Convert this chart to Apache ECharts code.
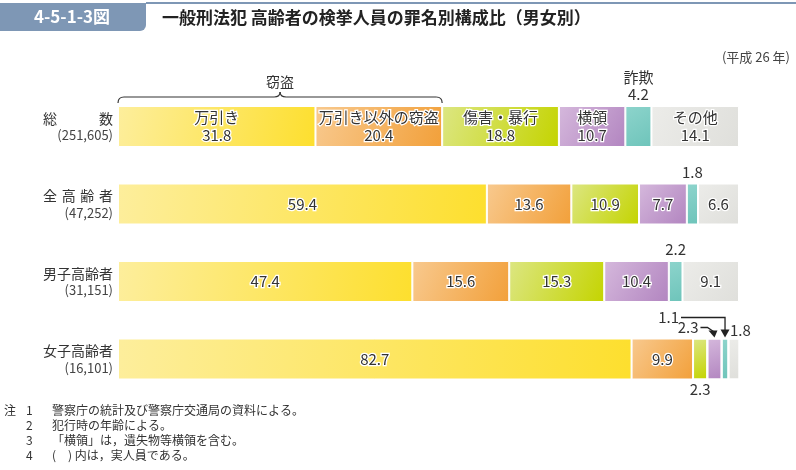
<!DOCTYPE html>
<html><head><meta charset="utf-8">
<script src="https://cdn.jsdelivr.net/npm/echarts@6/dist/echarts.min.js"></script>
<style>html,body{margin:0;padding:0;background:#fff}#c{width:796px;height:470px}</style>
</head><body><div id="c"></div>
<script>
// ---- data ----
const categories = ['総数', '全高齢者', '男子高齢者', '女子高齢者'];
const rowLabels = ['総　　　数', '全\u2004高\u2004齢\u2004者', '男子高齢者', '女子高齢者'];
const counts = ['(251,605)', '(47,252)', '(31,151)', '(16,101)'];
const crimeNames = ['万引き', '万引き以外の窃盗', '傷害・暴行', '横領', '詐欺', 'その他'];
const shoplifting = [31.8, 59.4, 47.4, 82.7];
const otherTheft = [20.4, 13.6, 15.6, 9.9];
const assault = [18.8, 10.9, 15.3, 2.3];
const embezzlement = [10.7, 7.7, 10.4, 2.3];
const fraud = [4.2, 1.8, 2.2, 1.1];
const others = [14.1, 6.6, 9.1, 1.8];
const groupLabel = '窃盗';
const titleNo = '4-5-1-3図';
const titleText = '一般刑法犯 高齢者の検挙人員の罪名別構成比（男女別）';
const yearText = '(平成 26 年)';
const noteNums = ['1', '2', '3', '4'];
const notes = ['警察庁の統計及び警察庁交通局の資料による。', '犯行時の年齢による。', '「横領」は，遺失物等横領を含む。', '(　) 内は，実人員である。'];

const FONT = '"Noto Sans CJK JP", "Noto Sans", sans-serif';
const seriesValues = [shoplifting, otherTheft, assault, embezzlement, fraud, others];
const gradients = [
  ['#FDEE9C', '#FDDF2E'],
  ['#F8C98E', '#F2A03A'],
  ['#DCE682', '#C4D400'],
  ['#D5B8DC', '#B285C0'],
  ['#8DD4CC', '#6EC4BA'],
  ['#ECECE9', '#DFDFDB']
];
const insideRows = [[0,1,2,3],[0,1,2,3],[0,1,2],[0,1,2],[],[0,1,2]];
const topRows = [[],[],[],[],[0,1,2],[]];

const BAR_W = 41;
const valueLabel = {
  fontFamily: FONT, fontSize: 15, color: '#333', textBorderColor: '#fff', textBorderWidth: 2.5, lineHeight: 18
};

const series = seriesValues.map((vals, si) => ({
  name: crimeNames[si],
  type: 'bar',
  stack: 'total',
  barWidth: BAR_W,
  itemStyle: {
    borderColor: '#fff', borderWidth: 1,
    color: { type: 'linear', x: 0, y: 0, x2: 1, y2: 1, colorStops: [{offset: 0, color: gradients[si][0]}, {offset: 1, color: gradients[si][1]}] }
  },
  data: vals.map((v, ri) => {
    const inside = insideRows[si].includes(ri);
    const top = topRows[si].includes(ri);
    let label = { show: false };
    if (inside) {
      label = Object.assign({ show: true, position: 'inside',
        formatter: ri === 0 ? crimeNames[si] + '\n' + v.toFixed(1) : v.toFixed(1) }, valueLabel);
    } else if (top) {
      label = { show: true, position: 'top', distance: 3, fontFamily: FONT, fontSize: 15, color: '#333', lineHeight: 17,
        formatter: ri === 0 ? crimeNames[si] + '\n' + v.toFixed(1) : v.toFixed(1) };
    }
    return { value: v, label };
  })
}));

const chart = echarts.init(document.getElementById('c'), null, { renderer: 'canvas' });
chart.setOption({
  animation: false,
  backgroundColor: '#fff',
  grid: { left: 118, right: 57, top: 87.75, bottom: 72.25, containLabel: false },
  xAxis: { type: 'value', min: 0, max: 100, show: false },
  yAxis: {
    type: 'category', data: categories, inverse: true,
    axisLine: { show: false }, axisTick: { show: false }, splitLine: { show: false },
    axisLabel: {
      margin: 5, align: 'right',
      formatter: (val, idx) => '{a|' + rowLabels[idx] + '}\n{b|' + counts[idx] + '}',
      rich: {
        a: { fontFamily: FONT, fontSize: 14, color: '#333', lineHeight: 18, align: 'right' },
        b: { fontFamily: FONT, fontSize: 13, color: '#444', lineHeight: 16, align: 'right' }
      }
    }
  },
  series
});

function px(x, row) { return chart.convertToPixel({ gridIndex: 0 }, [x, row]); }
function cum(row, si) { let s = 0; for (let k = 0; k < si; k++) s += seriesValues[k][row]; return s; }
function segCenter(row, si) { return px(cum(row, si) + seriesValues[si][row] / 2, row); }

const g = [];
const T = (t, x, y, o) => ({ type: 'text', x, y, style: Object.assign({ text: t, fontFamily: FONT, fontSize: 15, fill: '#333', align: 'center', verticalAlign: 'middle' }, o || {}) });
// title bar
g.push({ type: 'rect', shape: { x: 0, y: 3, width: 146, height: 28, r: [0, 0, 6, 0] }, style: { fill: '#7E97B5' } });
g.push({ type: 'rect', shape: { x: 146, y: 2, width: 650, height: 2 }, style: { fill: '#7E97B5' } });
g.push(T(titleNo, 72, 17, { fontSize: 17, fontWeight: 'bold', fill: '#fff' }));
g.push(T(titleText, 162, 18, { fontSize: 17, fontWeight: 'bold', fill: '#222', align: 'left' }));
g.push(T(yearText, 790, 57, { fontSize: 13, fill: '#444', align: 'right' }));

// brace over theft group
const b0 = px(0, 0), b1 = px(shoplifting[0] + otherTheft[0], 0);
const topY = b0[1] - BAR_W / 2;
const x0 = b0[0], x1 = b1[0], xm = (x0 + x1) / 2;
const yb = topY - 3, yl = topY - 9, yp = topY - 14;
const braceStyle = { stroke: '#333', lineWidth: 1.2, fill: null };
const bz = (a, c, b) => ({ type: 'bezierCurve', shape: { x1: a[0], y1: a[1], cpx1: c[0], cpy1: c[1], x2: b[0], y2: b[1] }, style: braceStyle });
const ln = (a, b) => ({ type: 'line', shape: { x1: a[0], y1: a[1], x2: b[0], y2: b[1] }, style: braceStyle });
g.push(bz([x0, yb], [x0, yl], [x0 + 6, yl]));
g.push(ln([x0 + 6, yl], [xm - 6, yl]));
g.push(bz([xm - 6, yl], [xm, yl], [xm, yp]));
g.push(bz([xm, yp], [xm, yl], [xm + 6, yl]));
g.push(ln([xm + 6, yl], [x1 - 6, yl]));
g.push(bz([x1 - 6, yl], [x1, yl], [x1, yb]));
g.push(T(groupLabel, xm, yp - 10, { fontSize: 14 }));

// row 4 (女子高齢者) small-segment annotations
const r = 3;
const rowTop = px(0, r)[1] - BAR_W / 2, rowBot = px(0, r)[1] + BAR_W / 2;
const tealC = segCenter(r, 4), purC = segCenter(r, 3), grnC = segCenter(r, 2);
const grayEnd = px(100, r);
const arrowStyle = { stroke: '#222', lineWidth: 1.3, fill: null };
// 1.1 -> teal
const yA = rowTop - 21;
g.push(T(fraud[r].toFixed(1), tealC[0] - 46, yA, { align: 'right' }));
g.push({ type: 'polyline', shape: { points: [[tealC[0] - 44, yA], [tealC[0], yA], [tealC[0], rowTop - 8]] }, style: arrowStyle });
g.push({ type: 'polygon', shape: { points: [[tealC[0] - 4.5, rowTop - 9], [tealC[0] + 4.5, rowTop - 9], [tealC[0], rowTop - 1]] }, style: { fill: '#222' } });
// 2.3 -> purple
const yB = rowTop - 11;
g.push(T(embezzlement[r].toFixed(1), purC[0] - 16, yB, { align: 'right' }));
g.push({ type: 'polyline', shape: { points: [[purC[0] - 14, yB], [purC[0] - 7, yB], [purC[0] - 1, rowTop - 7]] }, style: arrowStyle });
g.push({ type: 'polygon', shape: { points: [[purC[0] - 6, rowTop - 8], [purC[0] + 3, rowTop - 8], [purC[0], rowTop - 1]] }, style: { fill: '#222' } });
// 1.8 gray, right
g.push(T(others[r].toFixed(1), grayEnd[0] - 9, rowTop - 8, { align: 'left' }));
// 2.3 green, below
g.push(T(assault[r].toFixed(1), grnC[0], rowBot + 10));

// notes
g.push(T('注', 4, 410, { fontSize: 12, align: 'left' }));
noteNums.forEach((n, i) => {
  g.push(T(n, 26, 410 + i * 15, { fontSize: 12, align: 'left' }));
  g.push(T(notes[i], 52, 410 + i * 15, { fontSize: 12, align: 'left' }));
});

chart.setOption({ graphic: { elements: g } });
</script>
</body></html>
